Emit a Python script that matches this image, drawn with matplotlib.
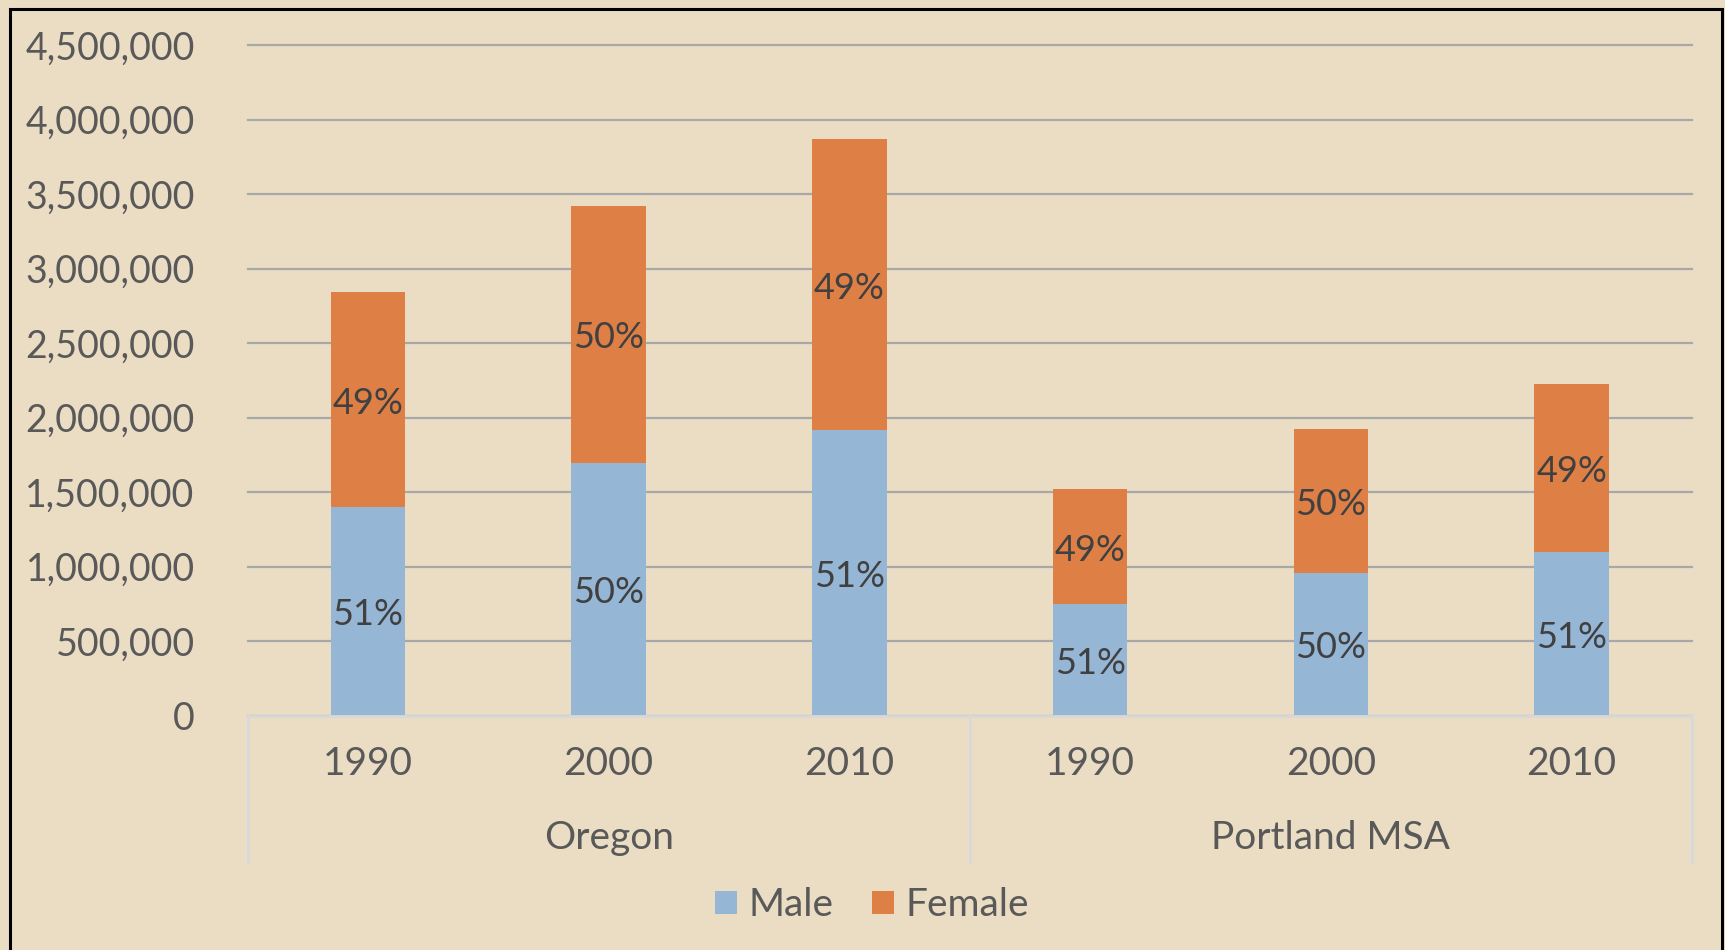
import matplotlib.pyplot as plt
import matplotlib.transforms as mtransforms
from matplotlib.patches import Rectangle
import numpy as np

plt.rcParams['font.family'] = ['Lato', 'DejaVu Sans']

# data
groups = ['Oregon', 'Portland MSA']
years = ['1990', '2000', '2010', '1990', '2000', '2010']
male = [1400000, 1697000, 1917000, 745000, 959000, 1097000]
female = [1442000, 1724000, 1950000, 777000, 966000, 1131000]
male_pct = ['51%', '50%', '51%', '51%', '50%', '51%']
female_pct = ['49%', '50%', '49%', '49%', '50%', '49%']

bg = '#EBDDC3'
blue = '#95B6D5'
orange = '#DE8046'
txt = '#595959'

fig = plt.figure(figsize=(17.25, 9.5), dpi=100, facecolor=bg)
ax = fig.add_axes([247.5 / 1725, 1 - 715.5 / 950, (1692 - 247.5) / 1725, (715.5 - 45) / 950])
ax.set_facecolor(bg)

x = np.arange(len(years))
w = 0.31
ax.bar(x, male, w, color=blue, label='Male', zorder=3)
ax.bar(x, female, w, bottom=male, color=orange, label='Female', zorder=3)

for i in range(len(x)):
    ax.text(x[i], male[i] / 2 - 25000, male_pct[i], ha='center', va='center',
            fontsize=26, color='#404040', zorder=4)
    ax.text(x[i], male[i] + female[i] / 2 - 25000, female_pct[i], ha='center', va='center',
            fontsize=26, color='#404040', zorder=4)

ax.set_xlim(-0.5, len(x) - 0.5)
ax.set_ylim(0, 4500000)
ax.set_yticks(np.arange(0, 4500001, 500000))
ax.set_yticklabels([f'{int(v):,}' for v in np.arange(0, 4500001, 500000)])
ax.tick_params(axis='y', length=0, pad=38, labelsize=27, labelcolor=txt)
ax.grid(axis='y', color='#A8A8A8', linewidth=1.6, zorder=0)
for gl in ax.get_ygridlines():
    gl.set_clip_on(False)

ax.set_xticks(x)
ax.set_xticklabels(years)
ax.tick_params(axis='x', length=0, pad=22, labelsize=28, labelcolor=txt)

for s in ['top', 'right', 'left']:
    ax.spines[s].set_visible(False)
ax.spines['bottom'].set_color('#D9D9D9')
ax.spines['bottom'].set_linewidth(2)
ax.spines['bottom'].set_zorder(5)

# group dividers and group names under the year labels
trans = mtransforms.blended_transform_factory(ax.transData, ax.transAxes)
bottom_frac = (715.5 - 862) / (715.5 - 45)
for xv in [-0.5, 2.5, 5.5]:
    ax.plot([xv, xv], [0, bottom_frac], transform=trans, color='#D9D9D9',
            linewidth=2, clip_on=False)
label_frac = (715.5 - 838) / (715.5 - 45)
ax.text(1, label_frac, groups[0], transform=trans, ha='center', va='center',
        fontsize=28, color=txt)
ax.text(4, label_frac, groups[1], transform=trans, ha='center', va='center',
        fontsize=28, color=txt)

fig.legend(loc='center', bbox_to_anchor=(872 / 1725, 1 - 905 / 950), ncol=2,
           frameon=False, fontsize=28, labelcolor=txt, handlelength=0.55,
           handleheight=0.55, handletextpad=0.3, columnspacing=1.0)

# black frame around the chart
fig.patches.append(Rectangle((10 / 1725, -0.05), (1722 - 10) / 1725, 1.05 - 9 / 950,
                             transform=fig.transFigure, fill=False,
                             edgecolor='black', linewidth=2.2))

fig.savefig('out.png', dpi=100, facecolor=bg)
